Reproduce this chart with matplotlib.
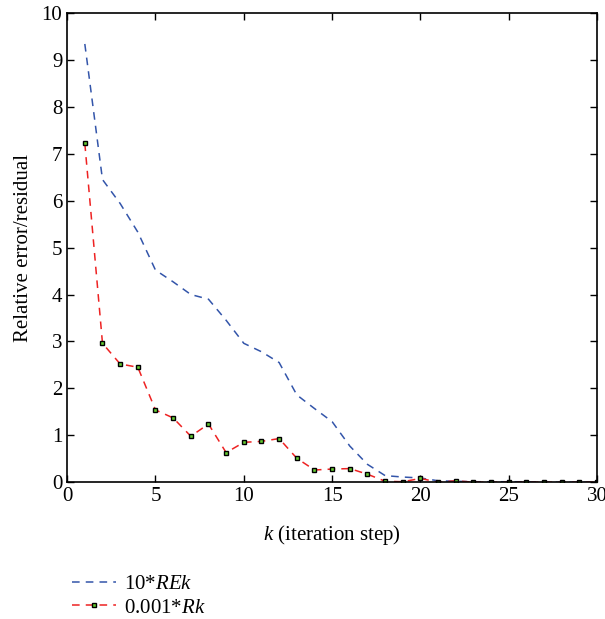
import matplotlib
matplotlib.use("Agg")
import matplotlib.pyplot as plt
import numpy as np

plt.rcParams['font.family'] = ['Liberation Serif', 'DejaVu Serif']
plt.rcParams['mathtext.fontset'] = 'custom'
plt.rcParams['mathtext.rm'] = 'Liberation Serif'
plt.rcParams['mathtext.it'] = 'Liberation Serif:italic'

# iteration steps
k = np.arange(1, 31)

# 10*REk (blue)
re_k = [9.34, 6.45, 5.94, 5.33, 4.52, 4.27, 4.0, 3.9, 3.45, 2.96,
        2.78, 2.55, 1.86, 1.57, 1.29, 0.77, 0.38, 0.14, 0.11, 0.09,
        0.03, 0.02, 0.01, 0.01, 0.01, 0.01, 0.0, 0.0, 0.0, 0.0]

# 0.001*Rk (red)
r_k = [7.22, 2.96, 2.52, 2.45, 1.54, 1.37, 0.98, 1.24, 0.63, 0.85,
       0.87, 0.93, 0.51, 0.26, 0.28, 0.29, 0.17, 0.02, 0.01, 0.08,
       0.0, 0.03, 0.0, 0.0, 0.0, 0.0, 0.0, 0.0, 0.0, 0.0]

fig = plt.figure(figsize=(6.05, 6.19), dpi=100)
ax = fig.add_axes([0.111, 0.221, 0.876, 0.758])

l1, = ax.plot(k, re_k, color='#3355aa', lw=1.1, dashes=(5, 4), label='10*$REk$')
l2, = ax.plot(k, r_k, color='#ee2222', lw=1.1, dashes=(5, 4),
              marker='s', markersize=3.5, markerfacecolor='#66cc33',
              markeredgecolor='black', markeredgewidth=1.0, label='0.001*$Rk$')

ax.set_xlim(0, 30)
ax.set_ylim(0, 10)
ax.set_xticks(range(0, 31, 5))
ax.set_yticks(range(0, 11))
ax.tick_params(direction='in', top=True, right=True, labelsize=15, length=5, width=1)
for s in ax.spines.values():
    s.set_linewidth(1.2)

ax.set_xlabel('$k$ (iteration step)', fontsize=15, labelpad=12)
ax.set_ylabel('Relative error/residual', fontsize=15, labelpad=6)

fig.legend(handles=[l1, l2], loc='lower left', bbox_to_anchor=(0.088, -0.028),
           frameon=False, fontsize=15, handlelength=2.1, handletextpad=0.4,
           labelspacing=0.2)

fig.savefig('out.png', dpi=100)
